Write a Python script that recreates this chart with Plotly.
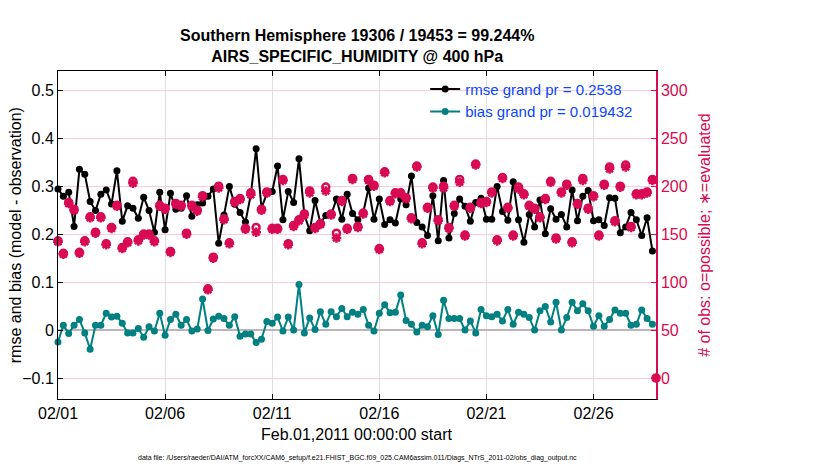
import pandas as pd
import plotly.graph_objects as go

# DART obs_diag style evolution plot, 6-hourly bins for Feb 2011
title_lines = ["Southern Hemisphere 19306 / 19453 = 99.244%",
               "AIRS_SPECIFIC_HUMIDITY @ 400 hPa"]
bin_start = "2011-02-01 00:00"
bin_end = "2011-02-28 22:00"
n_bins = 112
bin_width = "6h"

rmse = [0.294, 0.279, 0.287, 0.216, 0.335, 0.325, 0.268, 0.249, 0.283, 0.292,
        0.263, 0.332, 0.227, 0.259, 0.254, 0.233, 0.277, 0.249, 0.204, 0.287,
        0.209, 0.285, 0.252, 0.254, 0.280, 0.237, 0.261, 0.265, 0.279, 0.294,
        0.181, 0.240, 0.299, 0.262, 0.245, 0.225, 0.282, 0.378, 0.254, 0.285,
        0.289, 0.342, 0.230, 0.289, 0.266, 0.357, 0.241, 0.207, 0.270, 0.223,
        0.239, 0.240, 0.273, 0.231, 0.283, 0.243, 0.230, 0.245, 0.296, 0.231,
        0.273, 0.220, 0.230, 0.223, 0.273, 0.261, 0.321, 0.224, 0.215, 0.197,
        0.280, 0.186, 0.312, 0.192, 0.243, 0.273, 0.258, 0.227, 0.266, 0.275,
        0.231, 0.231, 0.299, 0.247, 0.229, 0.309, 0.230, 0.183, 0.241, 0.215,
        0.271, 0.201, 0.253, 0.231, 0.241, 0.215, 0.292, 0.228, 0.279, 0.291,
        0.228, 0.230, 0.218, 0.276, 0.275, 0.203, 0.215, 0.245, 0.230, 0.197,
        0.234, 0.165]

bias = [-0.025, 0.010, -0.007, 0.010, 0.022, -0.006, -0.040, 0.010, 0.010, 0.035,
        0.027, 0.029, 0.014, -0.006, -0.006, 0.003, -0.015, 0.007, -0.002, 0.035,
        -0.011, 0.022, 0.033, 0.010, 0.022, -0.002, 0.002, 0.065, -0.001, 0.023,
        0.029, 0.024, 0.010, 0.028, -0.013, -0.008, -0.008, -0.026, -0.019, 0.018,
        0.014, 0.027, -0.002, 0.027, 0.000, 0.095, -0.006, 0.025, 0.001, 0.038,
        0.012, 0.038, 0.028, 0.045, 0.028, 0.037, 0.033, 0.043, 0.010, -0.002,
        0.035, 0.053, 0.036, 0.037, 0.073, 0.020, 0.012, -0.004, 0.010, 0.007,
        0.030, -0.009, 0.062, 0.024, 0.024, 0.024, 0.000, 0.019, -0.006, 0.043,
        0.030, 0.028, 0.033, 0.019, 0.043, 0.012, 0.037, 0.033, 0.026, 0.000,
        0.040, 0.049, 0.017, 0.058, 0.000, 0.026, 0.058, 0.040, 0.055, 0.040,
        0.008, 0.030, 0.008, 0.022, 0.042, 0.035, 0.035, 0.010, 0.012, 0.042,
        0.024, 0.012]

# number of obs used (evaluated) and possible per bin
n_used = [142, 129, 182, 175, 130, 142, 167, 151, 167, 139,
          156, 179, 135, 141, 203, 143, 149, 149, 142, 179,
          176, 131, 181, 179, 150, 179, 174, 189, 92, 125,
          198, 165, 140, 183, 186, 155, 191, 152, 175, 193,
          155, 155, 206, 139, 158, 164, 170, 193, 156, 160,
          195, 170, 146, 184, 155, 207, 157, 171, 206, 200,
          134, 214, 184, 192, 192, 187, 166, 220, 140, 177,
          198, 164, 198, 156, 179, 204, 148, 177, 222, 182,
          183, 193, 143, 208, 177, 148, 197, 191, 179, 176,
          167, 186, 204, 145, 193, 201, 141, 181, 206, 176,
          189, 148, 201, 218, 163, 199, 220, 157, 191, 191,
          193, 206]

n_poss = [143, 130, 183, 176, 131, 143, 168, 152, 168, 140,
          157, 180, 136, 142, 205, 144, 150, 150, 143, 180,
          177, 132, 182, 180, 151, 180, 175, 190, 93, 126,
          200, 166, 141, 184, 187, 156, 193, 157, 176, 194,
          156, 156, 207, 140, 159, 165, 171, 195, 157, 161,
          199, 171, 151, 185, 156, 208, 158, 172, 207, 201,
          135, 215, 185, 193, 193, 188, 167, 221, 141, 178,
          199, 165, 200, 157, 180, 207, 149, 178, 223, 183,
          184, 194, 144, 209, 178, 149, 199, 192, 180, 177,
          168, 187, 205, 146, 194, 202, 142, 182, 208, 177,
          190, 149, 202, 220, 164, 200, 222, 158, 192, 192,
          194, 207]

end_time = [bin_end]
end_count = [0]

rmse_grand = 0.2538
bias_grand = 0.019432

datafile = ("data file: /Users/raeder/DAI/ATM_forcXX/CAM6_setup/"
            "f.e21.FHIST_BGC.f09_025.CAM6assim.011/Diags_NTrS_2011-02/obs_diag_output.nc")

times = pd.date_range(bin_start, periods=n_bins, freq=bin_width)

FONT = "Liberation Sans, Arial, Helvetica, sans-serif"
pink = "rgb(215,10,83)"
teal = "rgb(0,128,128)"

fig = go.Figure()

fig.add_trace(go.Scatter(x=times, y=rmse, mode="lines+markers",
                         name="rmse grand pr = %g" % rmse_grand,
                         line=dict(color="black", width=2),
                         marker=dict(color="black", size=7),
                         cliponaxis=False))
fig.add_trace(go.Scatter(x=times, y=bias, mode="lines+markers",
                         name="bias grand pr = %g" % bias_grand,
                         line=dict(color=teal, width=2),
                         marker=dict(color=teal, size=7),
                         cliponaxis=False))
fig.add_trace(go.Scatter(x=times, y=n_poss, mode="markers", yaxis="y2",
                         showlegend=False,
                         marker=dict(symbol="circle-open", size=7, color=pink,
                                     line=dict(color=pink, width=2.5)),
                         cliponaxis=False))
fig.add_trace(go.Scatter(x=times, y=n_used, mode="markers", yaxis="y2",
                         showlegend=False,
                         marker=dict(symbol="asterisk-open", size=8, color=pink,
                                     line=dict(color=pink, width=2.5)),
                         cliponaxis=False))
fig.add_trace(go.Scatter(x=end_time, y=end_count, mode="markers", yaxis="y2",
                         showlegend=False,
                         marker=dict(symbol="asterisk-open", size=8, color=pink,
                                     line=dict(color=pink, width=3)),
                         cliponaxis=False))

# the page body has an 8px margin, so the frame is placed 8px up/left
fig.update_layout(
    width=830, height=470,
    margin=dict(l=50, r=182, t=63, b=79),
    paper_bgcolor="white", plot_bgcolor="white",
    font=dict(family=FONT, size=16, color="black"),
    showlegend=True,
    legend=dict(x=0.614, y=0.995, xanchor="left", yanchor="top",
                bgcolor="rgba(0,0,0,0)", itemwidth=30, tracegroupgap=0,
                font=dict(family=FONT, size=15, color="rgb(10,70,255)")),
    xaxis=dict(type="date", range=[bin_start, bin_end],
               tick0="2011-02-01", dtick=5 * 86400000, tickformat="%m/%d",
               ticks="inside", ticklen=5, tickcolor="black",
               showline=True, linecolor="black", linewidth=1, mirror="ticks",
               showgrid=True, gridcolor="rgb(222,222,222)", gridwidth=1,
               zeroline=False, tickfont=dict(size=16)),
    yaxis=dict(range=[-0.1437, 0.540], dtick=0.1, tick0=0,
               ticks="inside", ticklen=5, tickcolor="black",
               showline=True, linecolor="black", linewidth=1,
               showgrid=True, gridcolor="rgb(250,205,222)", gridwidth=1,
               zeroline=True, zerolinecolor="rgb(190,180,186)", zerolinewidth=2,
               tickfont=dict(size=16)),
    yaxis2=dict(overlaying="y", side="right", range=[-21.85, 320.0],
                dtick=50, tick0=0, ticks="inside", ticklen=5, tickcolor=pink,
                showline=True, linecolor=pink, linewidth=1.5,
                showgrid=False, zeroline=False,
                tickfont=dict(size=16, color=pink)),
    annotations=[
        dict(text="<b>%s</b><br><b>%s</b>" % tuple(title_lines),
             xref="paper", yref="paper", x=0.5, y=1.0, yshift=4,
             xanchor="center", yanchor="bottom", showarrow=False,
             font=dict(family=FONT, size=16, color="black")),
        dict(text="Feb.01,2011 00:00:00 start", xref="paper", yref="paper",
             x=0.5, y=-0.107, xanchor="center", yanchor="middle", showarrow=False,
             font=dict(family=FONT, size=16)),
        dict(text=datafile, xref="paper", yref="paper",
             x=0.5, y=-0.18, xanchor="center", yanchor="middle", showarrow=False,
             font=dict(family=FONT, size=7)),
        dict(text="rmse and bias (model - observation)", xref="paper", yref="paper",
             x=-0.0715, y=0.5, xanchor="center", yanchor="middle", textangle=-90,
             showarrow=False, borderpad=0, font=dict(family=FONT, size=16)),
        dict(text="# of obs: o=possible; \u2217=evaluated", xref="paper", yref="paper",
             x=1.080, y=0.5, xanchor="center", yanchor="middle", textangle=-90,
             showarrow=False, font=dict(family=FONT, size=16, color=pink)),
    ],
)

fig.write_html("out.html")
